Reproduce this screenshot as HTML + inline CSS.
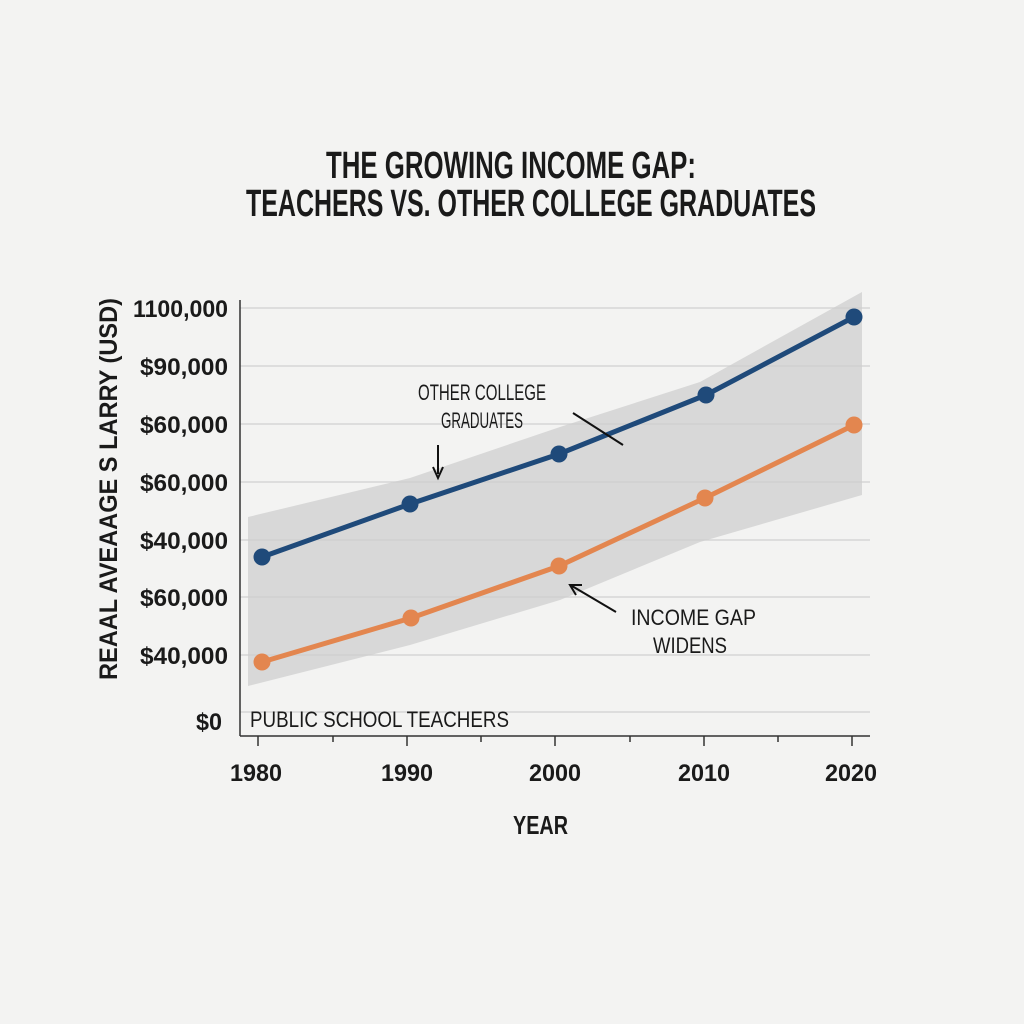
<!DOCTYPE html>
<html><head><meta charset="utf-8"><style>
html,body{margin:0;padding:0;background:#f3f3f2;}
svg{display:block}
text{font-family:"Liberation Sans",sans-serif;fill:#1a1a1a}
</style></head><body>
<svg width="1024" height="1024" viewBox="0 0 1024 1024">
<rect width="1024" height="1024" fill="#f3f3f2"/>
<text x="326" y="178" font-size="38" font-weight="bold" textLength="370" lengthAdjust="spacingAndGlyphs">THE GROWING INCOME GAP:</text>
<text x="246" y="216" font-size="38" font-weight="bold" textLength="570" lengthAdjust="spacingAndGlyphs">TEACHERS VS. OTHER COLLEGE GRADUATES</text>
<g stroke="#d6d6d6" stroke-width="1.5">
<line x1="240" y1="308" x2="870" y2="308"/><line x1="240" y1="366" x2="870" y2="366"/>
<line x1="240" y1="424" x2="870" y2="424"/><line x1="240" y1="482" x2="870" y2="482"/>
<line x1="240" y1="540" x2="870" y2="540"/><line x1="240" y1="597" x2="870" y2="597"/>
<line x1="240" y1="655" x2="870" y2="655"/><line x1="240" y1="712" x2="870" y2="712"/>
</g>
<polygon points="248,517 410,478 560,427 700,382 862,292 862,495 700,542 560,600 410,645 248,686" fill="#cfcfcf" opacity="0.75"/>
<g stroke="#333" stroke-width="1.5">
<line x1="240" y1="300" x2="240" y2="736"/><line x1="240" y1="736" x2="870" y2="736"/>
<line x1="258" y1="736" x2="258" y2="746"/><line x1="407" y1="736" x2="407" y2="746"/>
<line x1="555" y1="736" x2="555" y2="746"/><line x1="704" y1="736" x2="704" y2="746"/>
<line x1="852" y1="736" x2="852" y2="746"/>
<line x1="333" y1="736" x2="333" y2="742"/><line x1="481" y1="736" x2="481" y2="742"/>
<line x1="630" y1="736" x2="630" y2="742"/><line x1="778" y1="736" x2="778" y2="742"/>
</g>
<g font-size="24" font-weight="bold">
<text x="133" y="317" textLength="95" lengthAdjust="spacingAndGlyphs">1100,000</text>
<text x="140" y="375" textLength="88" lengthAdjust="spacingAndGlyphs">$90,000</text>
<text x="140" y="433" textLength="88" lengthAdjust="spacingAndGlyphs">$60,000</text>
<text x="140" y="491" textLength="88" lengthAdjust="spacingAndGlyphs">$60,000</text>
<text x="140" y="549" textLength="88" lengthAdjust="spacingAndGlyphs">$40,000</text>
<text x="140" y="606" textLength="88" lengthAdjust="spacingAndGlyphs">$60,000</text>
<text x="140" y="664" textLength="88" lengthAdjust="spacingAndGlyphs">$40,000</text>
<text x="196" y="730" textLength="26" lengthAdjust="spacingAndGlyphs">$0</text>
</g>
<g font-size="24" font-weight="bold">
<text x="230" y="781" textLength="52" lengthAdjust="spacingAndGlyphs">1980</text>
<text x="381" y="781" textLength="52" lengthAdjust="spacingAndGlyphs">1990</text>
<text x="529" y="781" textLength="52" lengthAdjust="spacingAndGlyphs">2000</text>
<text x="678" y="781" textLength="52" lengthAdjust="spacingAndGlyphs">2010</text>
<text x="825" y="781" textLength="52" lengthAdjust="spacingAndGlyphs">2020</text>
<text x="513" y="834" font-size="26" textLength="55" lengthAdjust="spacingAndGlyphs">YEAR</text>
</g>
<text transform="translate(117 680) rotate(-90)" font-size="25" font-weight="bold" textLength="382" lengthAdjust="spacingAndGlyphs">REAAL AVEAAGE  S LARRY (USD)</text>
<polyline points="262,557 410,504 559,454 706,395 854,317" fill="none" stroke="#1f4a7a" stroke-width="5"/>
<polyline points="262,662 411,618 559,566 705,498 854,425" fill="none" stroke="#e3864f" stroke-width="5"/>
<g fill="#1f4a7a"><circle cx="262" cy="557" r="8.5"/><circle cx="410" cy="504" r="8.5"/><circle cx="559" cy="454" r="8.5"/><circle cx="706" cy="395" r="8.5"/><circle cx="854" cy="317" r="8.5"/></g>
<g fill="#e3864f"><circle cx="262" cy="662" r="8.5"/><circle cx="411" cy="618" r="8.5"/><circle cx="559" cy="566" r="8.5"/><circle cx="705" cy="498" r="8.5"/><circle cx="854" cy="425" r="8.5"/></g>
<g font-size="22">
<text x="418" y="400" textLength="128" lengthAdjust="spacingAndGlyphs">OTHER COLLEGE</text>
<text x="441" y="428" textLength="82" lengthAdjust="spacingAndGlyphs">GRADUATES</text>
<text x="631" y="625" textLength="125" lengthAdjust="spacingAndGlyphs">INCOME GAP</text>
<text x="653" y="653" textLength="74" lengthAdjust="spacingAndGlyphs">WIDENS</text>
<text x="250" y="727" textLength="259" lengthAdjust="spacingAndGlyphs">PUBLIC SCHOOL TEACHERS</text>
</g>
<g stroke="#111" stroke-width="2" fill="none">
<line x1="438" y1="445" x2="438" y2="474"/><polyline points="433,467 438,478 443,467"/>
<line x1="573" y1="413" x2="623" y2="445"/>
<line x1="616" y1="612" x2="572" y2="586"/><polyline points="576,595 570,585 582,585"/>
</g>
</svg>
</body></html>
